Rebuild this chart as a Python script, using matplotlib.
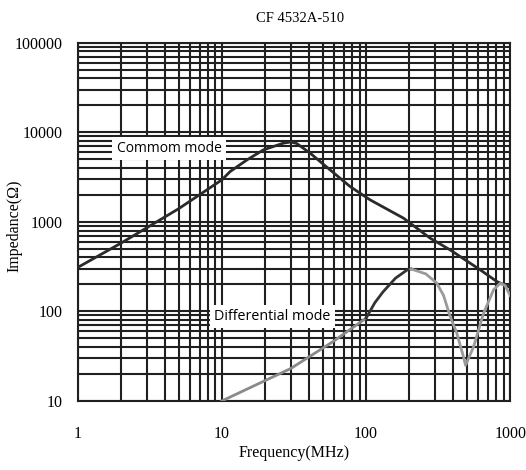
import numpy as np
import matplotlib
matplotlib.use('Agg')
from matplotlib import pyplot as plt
from matplotlib.ticker import LogLocator, FixedLocator, NullFormatter

# ------ DATOS
freq_cm = [1, 2, 5, 10, 11.4, 15, 19.4, 26.7, 30, 33, 40.8, 56.2, 77.4, 106.6, 181.6,
           278, 383, 619, 809, 1000]
imp_cm = [310, 580, 1400, 2950, 3650, 4950, 6370, 7570, 7800, 7500, 5870, 3810, 2480,
          1760, 1100, 658, 486, 291, 215, 185]

freq_dm = [10, 30, 59, 100, 115, 131, 160, 193, 205, 260, 310, 345, 383, 426, 474, 490,
           556, 653, 766, 851, 920, 1000]
imp_dm = [10, 23, 46, 84, 125, 165, 235, 291, 298, 262, 206, 150, 88, 57, 31, 25,
          40, 95, 174, 206, 195, 150]
# tramos: gris hasta 100 MHz, oscuro hasta el pico, gris despues
tramo_oscuro = (3, 8)

y_ticks = [10, 100, 1000, 10000, 100000]
y_labels = ['10', '100', '1000', '10000', '100000']
x_ticks = [1, 10, 100, 1000]
x_labels = ['1', '10', '100', '1000']

titulo = 'CF 4532A-510'
etiqueta_x = 'Frequency(MHz)'
etiqueta_y = 'Impedance(\u03a9)'
texto_cm = 'Commom mode'
texto_dm = 'Differential mode'

serif = ['Liberation Serif', 'DejaVu Serif']
sans = ['Open Sans', 'DejaVu Sans']

fig = plt.figure(figsize=(5.26, 4.70), dpi=100)
ax = fig.add_axes([0.148, 0.147, 0.822, 0.762])
ax.set_xscale('log')
ax.set_yscale('log')
ax.set_xlim(1, 1000)
ax.set_ylim(10, 100000)

ax.xaxis.set_major_locator(FixedLocator(x_ticks))
ax.yaxis.set_major_locator(FixedLocator(y_ticks))
ax.xaxis.set_minor_locator(LogLocator(base=10, subs=np.arange(2, 10)))
ax.yaxis.set_minor_locator(LogLocator(base=10, subs=np.arange(2, 10)))
ax.xaxis.set_minor_formatter(NullFormatter())
ax.yaxis.set_minor_formatter(NullFormatter())
ax.set_xticklabels(x_labels, fontfamily=serif, fontsize=11.5)
ax.set_yticklabels(y_labels, fontfamily=serif, fontsize=11.5)
ax.tick_params(which='both', length=0)
ax.tick_params(axis='x', pad=18)
ax.tick_params(axis='y', pad=11)

ax.grid(True, which='both', color='#202020', linewidth=1.5)
for s in ax.spines.values():
    s.set_color('#202020')
    s.set_linewidth(1.5)

ax.plot(freq_cm, imp_cm, color='#2a2a2a', linewidth=2, zorder=3)

a, b = tramo_oscuro
ax.plot(freq_dm[:a + 1], imp_dm[:a + 1], color='#8a8a8a', linewidth=2, zorder=3)
ax.plot(freq_dm[a:b + 1], imp_dm[a:b + 1], color='#333333', linewidth=2, zorder=3)
ax.plot(freq_dm[b:], imp_dm[b:], color='#9a9a9a', linewidth=2, zorder=3)

caja = dict(facecolor='white', edgecolor='none', pad=3)
ax.text(4.29, 6550, texto_cm, fontfamily=sans, fontsize=10, ha='center', va='center',
        bbox=caja, zorder=4)
ax.text(22.4, 86.9, texto_dm, fontfamily=sans, fontsize=10.3, ha='center', va='center',
        bbox=caja, zorder=4)

fig.text(300 / 526, 1 - 18 / 470, titulo, fontfamily=serif, fontsize=10.5,
         ha='center', va='center')
ax.set_xlabel(etiqueta_x, fontfamily=serif, fontsize=11.5, labelpad=2)
ax.set_ylabel(etiqueta_y, fontfamily=serif, fontsize=11.5)
ax.yaxis.set_label_coords(-0.128, 0.49)

plt.savefig('out.png', dpi=100)
plt.close()
